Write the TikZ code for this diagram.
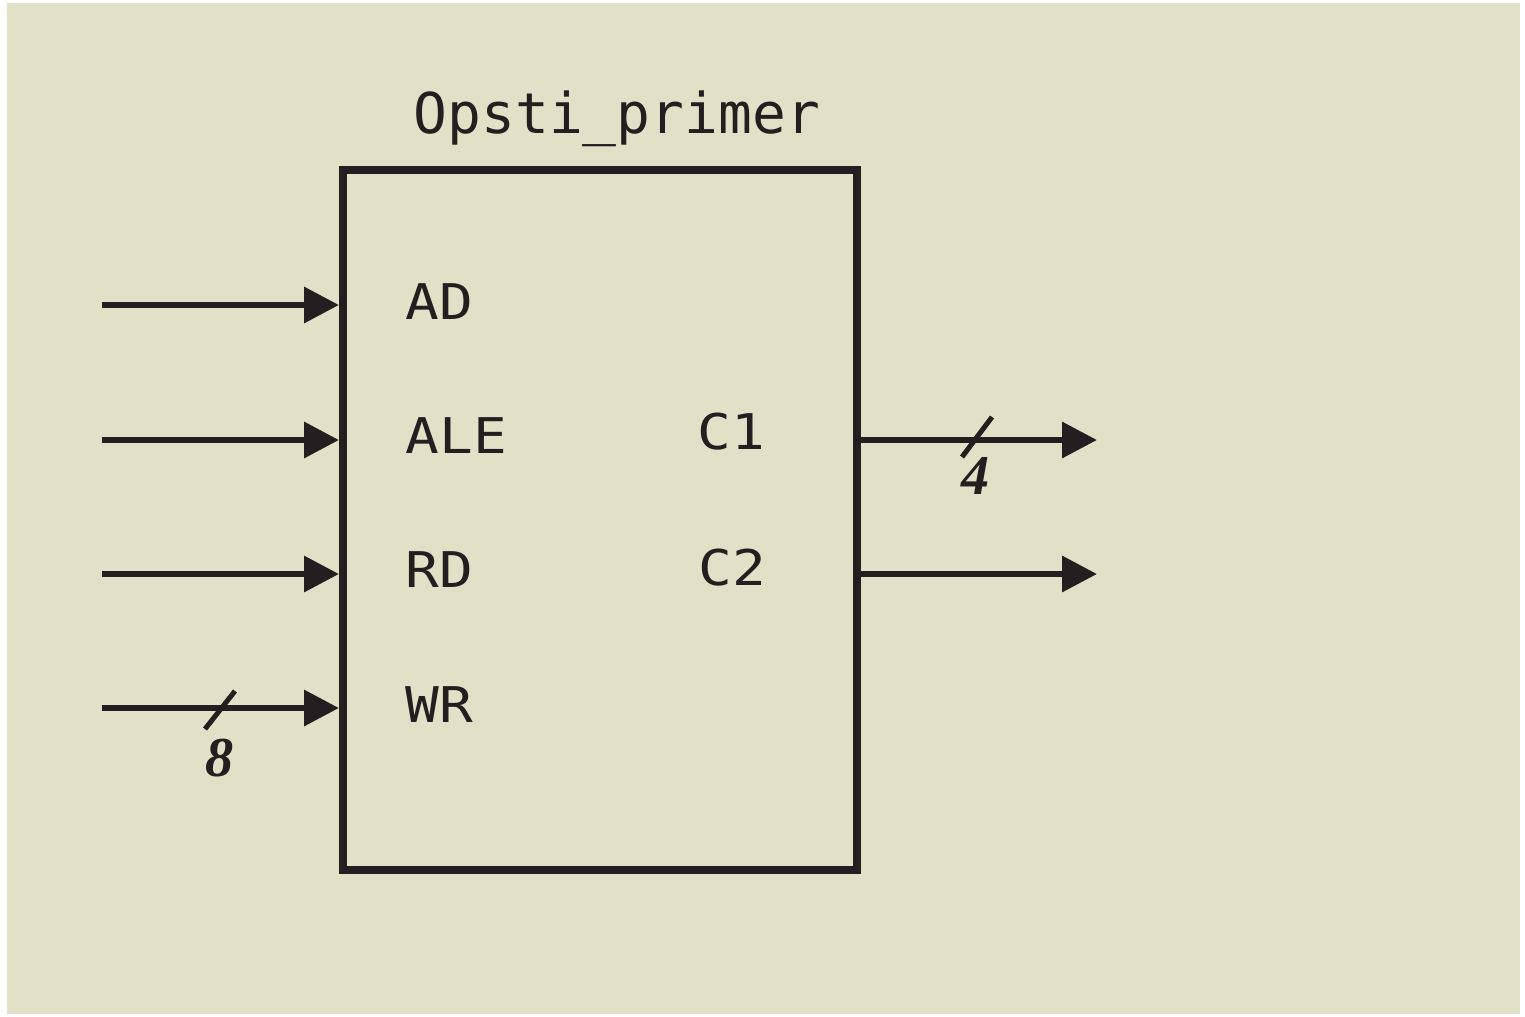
\documentclass[tikz,border=0pt]{standalone}
\usepackage{fontspec}
\setmonofont{DejaVu Sans Mono}
\newfontfamily\oznakafont[FakeStretch=1.14]{DejaVu Sans Mono}
\newfontfamily\brojfont{Liberation Serif}
\usepackage{tikz}
\usetikzlibrary{arrows.meta,positioning}
\definecolor{pozadina}{HTML}{E2E0C6}
\definecolor{linija}{HTML}{231F20}

\tikzset{
  signal/.style={draw=linija, line width=0.065cm, -{Triangle[length=0.35cm,width=0.35cm]}},
  oznaka/.style={text=linija, inner sep=0, anchor=base west, font=\oznakafont\fontsize{14}{14}\selectfont},
  broj/.style={text=linija, inner sep=0, anchor=base, font=\brojfont\bfseries\itshape\fontsize{16}{16}\selectfont},
  crtica/.style={draw=linija, line width=0.05cm}
}

\begin{document}
\begin{tikzpicture}
\useasboundingbox (0,0) rectangle (15.25,-10.16);
\fill[pozadina] (0.07,-0.03) rectangle (15.20,-10.14);

% blok
\node[draw=linija, line width=0.08cm, minimum width=5.14cm, minimum height=7.0cm,
      inner sep=0, anchor=north west] (blk) at (3.39,-1.66) {};
\node[text=linija, inner sep=0, anchor=base west, font=\ttfamily\fontsize{16}{16}\selectfont]
  (naslov) at (4.13,-1.33) {Opsti\_primer};

% ulazi
\coordinate (ad-in) at (1.02,-3.05);
\coordinate (ale-in) at (1.02,-4.40);
\coordinate (rd-in) at (1.02,-5.74);
\coordinate (wr-in) at (1.02,-7.08);
\draw[signal] (ad-in) -- (ad-in -| blk.west);
\draw[signal] (ale-in) -- (ale-in -| blk.west);
\draw[signal] (rd-in) -- (rd-in -| blk.west);
\draw[signal] (wr-in) -- (wr-in -| blk.west);

\node[oznaka] (ad) at (4.05,-3.19) {AD};
\node[oznaka] (ale) at (4.05,-4.53) {ALE};
\node[oznaka] (rd) at (4.05,-5.87) {RD};
\node[oznaka] (wr) at (4.05,-7.22) {WR};

% izlazi
\coordinate (c1-out) at (10.97,-4.40);
\coordinate (c2-out) at (10.97,-5.74);
\draw[signal] (c1-out -| blk.east) -- (c1-out);
\draw[signal] (c2-out -| blk.east) -- (c2-out);

\node[oznaka] (c1) at (6.97,-4.49) {C1};
\node[oznaka] (c2) at (6.98,-5.85) {C2};

% sirina magistrale
\coordinate (s4) at (9.77,-4.37);
\draw[crtica] ([shift={(-0.15,-0.20)}]s4) -- ([shift={(0.15,0.20)}]s4);
\node[broj] (b4) at (9.76,-4.94) {4};
\coordinate (s8) at (2.20,-7.10);
\draw[crtica] ([shift={(-0.15,-0.19)}]s8) -- ([shift={(0.15,0.19)}]s8);
\node[broj] (b8) at (2.20,-7.76) {8};
\end{tikzpicture}
\end{document}
